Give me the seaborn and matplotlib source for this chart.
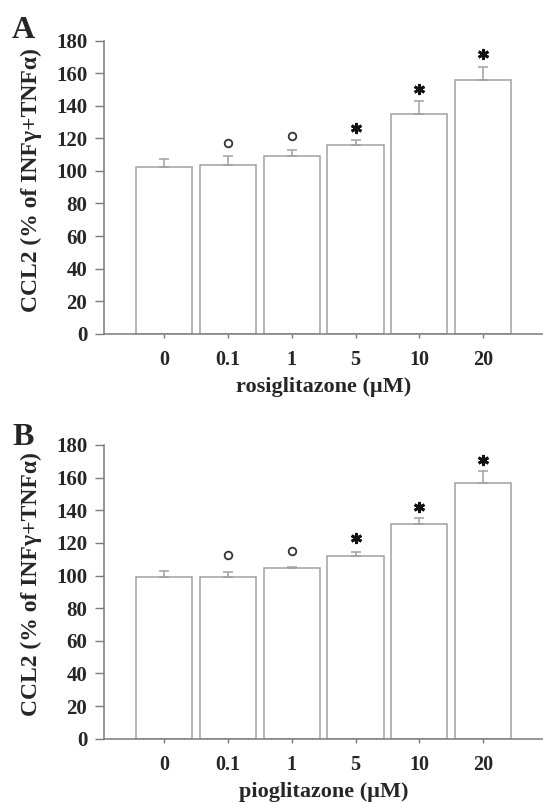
import matplotlib
matplotlib.use("Agg")
import matplotlib.pyplot as plt
import seaborn as sns
import pandas as pd
import numpy as np

# ---- data ----
doses = ["0", "0.1", "1", "5", "10", "20"]

rosi_mean = [102.6, 103.8, 109.0, 115.7, 135.1, 156.0]
rosi_err = [4.9, 5.5, 4.0, 3.5, 7.8, 8.0]
rosi_mark = ["", "o", "o", "*", "*", "*"]
rosi_mark_y = [np.nan, 117.3, 121.5, 126.6, 150.2, 172.0]

pio_mean = [99.3, 99.3, 104.6, 111.8, 131.6, 156.7]
pio_err = [3.6, 2.7, 0.8, 2.8, 3.4, 7.3]
pio_mark = ["", "o", "o", "*", "*", "*"]
pio_mark_y = [np.nan, 112.4, 115.0, 122.8, 142.2, 170.8]

y_ticks = [0, 20, 40, 60, 80, 100, 120, 140, 160, 180]
ylabel = "CCL2 (% of INFγ+TNFα)"
panels = [
    ("A", "rosiglitazone (µM)", rosi_mean, rosi_err, rosi_mark, rosi_mark_y),
    ("B", "pioglitazone (µM)", pio_mean, pio_err, pio_mark, pio_mark_y),
]

# ---- style ----
sns.set_style("ticks")
plt.rcParams["font.family"] = ["Liberation Serif", "DejaVu Serif"]
plt.rcParams["font.weight"] = "bold"

W, H = 543, 802
fig = plt.figure(figsize=(W / 100, H / 100), dpi=100)

spine_col = "#7a7a7a"
bar_col = "#a0a0a0"

# axes rectangles in pixel coordinates: (left, top_px, bottom_px)
rects = [(104.3, 40.7, 333.7), (104.3, 445.0, 738.7)]
letter_base = [38, 445]

for (letter, xlab, means, errs, marks, mark_y), (lx, ty, by), lb in zip(panels, rects, letter_base):
    ax = fig.add_axes([lx / W, 1 - by / H, (W - lx) / W, (by - ty) / H])
    df = pd.DataFrame({"dose": doses, "value": means})
    sns.barplot(data=df, x="dose", y="value", order=doses, ax=ax,
                color="white", edgecolor=bar_col, linewidth=1.1,
                width=0.88, errorbar=None)
    for p in ax.patches:
        p.set_facecolor("white")
    xs = np.arange(len(doses))
    ax.errorbar(xs, means, yerr=[np.zeros(len(means)), errs], fmt="none",
                ecolor=bar_col, elinewidth=1.1, capsize=3.3, capthick=1.1)
    for x, m, yv in zip(xs, marks, mark_y):
        if m == "*":
            ax.plot([x], [yv], marker=(6, 2, 0), markersize=8,
                    markeredgewidth=2.0, color="#111111", clip_on=False)
        elif m == "o":
            ax.plot([x], [yv], marker="o", markersize=5.5, markerfacecolor="white",
                    markeredgecolor="#333333", markeredgewidth=1.3, clip_on=False)
    ax.set_ylim(0, 180)
    ax.set_xlim(-0.94, 5.94)
    ax.set_yticks(y_ticks)
    ax.set_yticklabels([str(t) for t in y_ticks], fontsize=15, fontweight="bold")
    ax.set_xticks(xs)
    ax.set_xticklabels(doses, fontsize=14.5, fontweight="bold")
    ax.tick_params(axis="y", direction="out", length=6.2, width=1.0,
                   color=spine_col, pad=6)
    ax.tick_params(axis="x", direction="out", length=2.8, width=1.0,
                   color=spine_col, pad=9)
    for s in ["top", "right"]:
        ax.spines[s].set_visible(False)
    for s in ["left", "bottom"]:
        ax.spines[s].set_color(spine_col)
        ax.spines[s].set_linewidth(1.1)
    ax.set_xlabel(xlab, fontsize=16, fontweight="bold", labelpad=5)
    ax.set_ylabel(ylabel, fontsize=17, fontweight="bold")
    ax.yaxis.set_label_coords(-0.142, 0.525)
    fig.text(12 / W, 1 - lb / H, letter, fontsize=23, fontweight="bold",
             ha="left", va="baseline")

fig.savefig("out.png", dpi=100, facecolor="white")
